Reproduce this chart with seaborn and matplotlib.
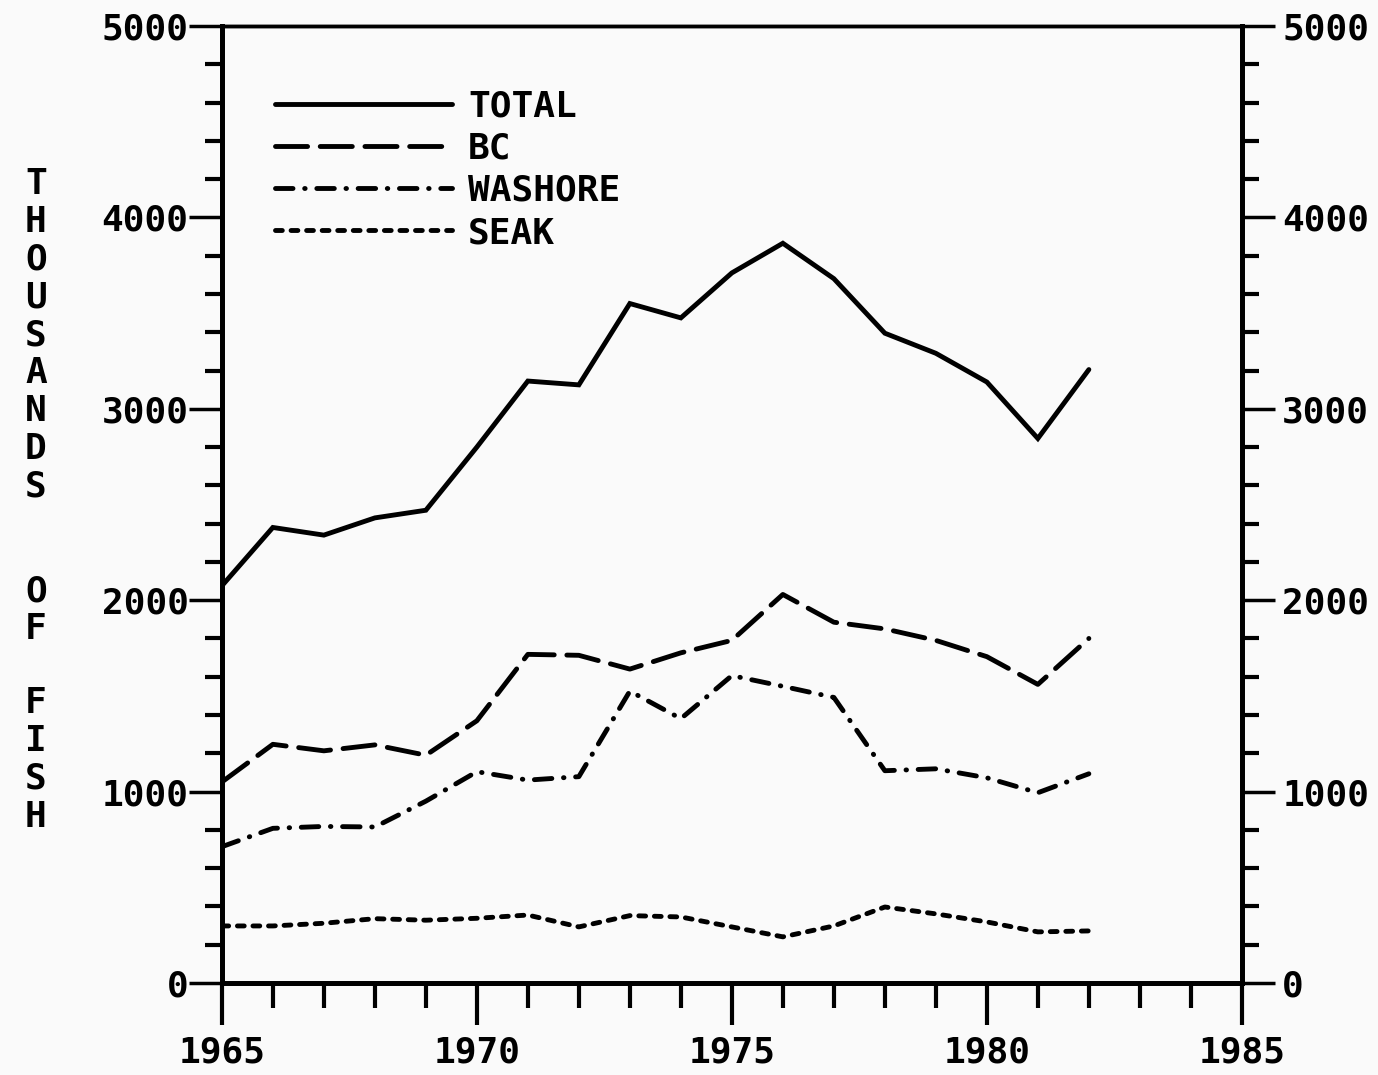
import matplotlib.pyplot as plt
import matplotlib
import seaborn as sns
import numpy as np
import pandas as pd
from matplotlib.ticker import MultipleLocator

# values, thousands of fish
years = list(range(1965, 1983))
total = [2075, 2380, 2340, 2430, 2470, 2800, 3145, 3125, 3550, 3475,
         3710, 3865, 3680, 3395, 3290, 3140, 2845, 3205]
bc = [1050, 1247, 1213, 1244, 1190, 1370, 1717, 1712, 1640, 1725,
      1790, 2030, 1885, 1850, 1790, 1705, 1560, 1800]
washore = [712, 808, 818, 815, 950, 1104, 1060, 1078, 1525, 1381,
           1606, 1550, 1492, 1109, 1119, 1072, 994, 1093]
seak = [298, 298, 312, 336, 328, 338, 355, 293, 352, 345,
        293, 241, 298, 397, 361, 319, 267, 272]

series_names = ["TOTAL", "BC", "WASHORE", "SEAK"]

df = pd.DataFrame({
    "year": years * 4,
    "fish": total + bc + washore + seak,
    "series": sum([[s] * len(years) for s in series_names], []),
})

sns.set_style("ticks")
matplotlib.rcParams['font.family'] = ['DejaVu Sans Mono']
matplotlib.rcParams['font.weight'] = 'bold'
matplotlib.rcParams['font.size'] = 26
for key in ['text.color', 'axes.labelcolor', 'xtick.color', 'ytick.color', 'axes.edgecolor']:
    matplotlib.rcParams[key] = 'black'

fig = plt.figure(figsize=(13.78, 10.75), dpi=100)
fig.patch.set_facecolor('#fafafa')
ax = fig.add_axes([0.161, 0.0856, 0.7402, 0.8902])
ax.set_facecolor('#fafafa')

# dash patterns in units of line width (round caps)
dash_map = {
    "TOTAL": "",
    "BC": (6.6, 2.6),
    "WASHORE": (3.6, 2.4, 0.1, 2.4),
    "SEAK": (1.4, 1.8),
}
sns.lineplot(data=df, x="year", y="fish", style="series", dashes=dash_map,
             style_order=series_names, color="black", linewidth=3.5,
             dash_capstyle='round', solid_capstyle='round',
             solid_joinstyle='miter', legend=False, ax=ax)

ax.set_xlim(1965, 1985)
ax.set_ylim(0, 5000)
ax.set_xlabel("")
ax.set_ylabel("")

ax.xaxis.set_major_locator(MultipleLocator(5))
ax.xaxis.set_minor_locator(MultipleLocator(1))
ax.yaxis.set_major_locator(MultipleLocator(1000))
ax.yaxis.set_minor_locator(MultipleLocator(200))

ax.tick_params(axis='x', which='major', direction='out', length=30, width=3, pad=8)
ax.tick_params(axis='x', which='minor', direction='out', length=18, width=3)
ax.tick_params(axis='y', which='major', direction='out', length=24, width=2.5, pad=0)
ax.tick_params(axis='y', which='minor', direction='out', length=12, width=3)

# right-hand axis with the same scale
ax2 = ax.twinx()
ax2.set_ylim(ax.get_ylim())
ax2.yaxis.set_major_locator(MultipleLocator(1000))
ax2.yaxis.set_minor_locator(MultipleLocator(200))
ax2.tick_params(axis='y', which='major', direction='out', length=24, width=2.5, pad=5)
ax2.tick_params(axis='y', which='minor', direction='out', length=12, width=3)

for a in (ax, ax2):
    for side in ['left', 'right', 'bottom']:
        a.spines[side].set_linewidth(3.5)
    a.spines['top'].set_linewidth(2.5)
    for side in a.spines:
        a.spines[side].set_color('black')

# legend from the drawn lines
handles = ax.lines[:4]
ax.legend(handles, series_names, frameon=False, loc='upper left',
          bbox_to_anchor=(0.052, 0.934), borderpad=0, borderaxespad=0,
          handlelength=4.9, handletextpad=0.45, labelspacing=0.23,
          prop={'size': 26, 'weight': 'bold'})

# stacked y label
for word, yc in [("THOUSANDS", 0.688), ("OF", 0.432), ("FISH", 0.293)]:
    fig.text(0.026, yc, "\n".join(word), ha='center', va='center',
             fontsize=26, fontweight='bold', linespacing=1.14)

plt.savefig("out.png", dpi=100, facecolor=fig.get_facecolor())
